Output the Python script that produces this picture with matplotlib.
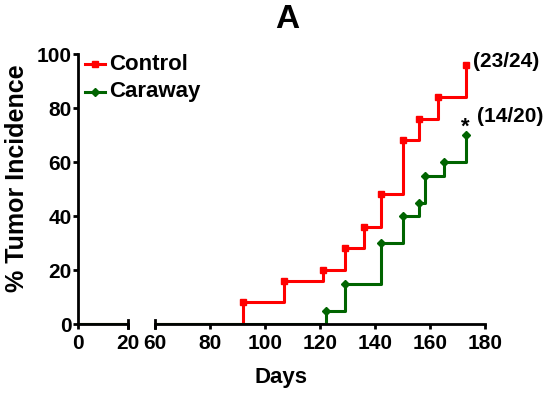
import matplotlib
matplotlib.use("Agg")
import matplotlib.pyplot as plt
from matplotlib.lines import Line2D

plt.rcParams['font.family'] = ['Liberation Sans', 'DejaVu Sans']
plt.rcParams['font.weight'] = 'bold'

# Data (days, % tumor incidence)
control_days = [92, 107, 121, 129, 136, 142, 150, 156, 163, 173]
control_pct = [8, 16, 20, 28, 36, 48, 68, 76, 84, 96]
caraway_days = [122, 129, 142, 150, 156, 158, 165, 173]
caraway_pct = [5, 15, 30, 40, 45, 55, 60, 70]
x_ticks_left = [0, 20]
x_ticks_right = [60, 80, 100, 120, 140, 160, 180]
y_ticks = [0, 20, 40, 60, 80, 100]
series_names = ['Control', 'Caraway']

RED = '#FF0000'
GREEN = '#006400'
LW = 2.2
MS = 4.5

W, H = 550, 396
fig = plt.figure(figsize=(W / 100, H / 100), dpi=100)
bottom = 1 - 324 / H
height = (324 - 54) / H
axL = fig.add_axes([78 / W, bottom, 50 / W, height])
axR = fig.add_axes([155 / W, bottom, 330 / W, height])

def step_xy(days, pct):
    return [0] + list(days), [0] + list(pct)

for ax in (axL, axR):
    xs, ys = step_xy(control_days, control_pct)
    ax.plot(xs, ys, drawstyle='steps-post', color=RED, lw=LW, zorder=2)
    xs, ys = step_xy(caraway_days, caraway_pct)
    ax.plot(xs, ys, drawstyle='steps-post', color=GREEN, lw=LW, zorder=2)
    ax.set_ylim(0, 100)
    ax.spines['top'].set_visible(False)
    ax.spines['right'].set_visible(False)
    for s in ('left', 'bottom'):
        ax.spines[s].set_linewidth(2.0)
        ax.spines[s].set_zorder(5)
        ax.spines[s].set_capstyle('projecting')
    ax.tick_params(width=2.0, length=3.6, labelsize=15)
    ax.tick_params(axis='x', pad=3.5)
    ax.tick_params(axis='y', pad=1)

axR.plot(control_days, control_pct, 's', color=RED, ms=MS, zorder=3, clip_on=False)
axR.plot(caraway_days, caraway_pct, 'D', color=GREEN, ms=MS, zorder=3, clip_on=False)

axL.set_xlim(0, 20)
axR.set_xlim(60, 180)
axL.set_xticks(x_ticks_left)
axR.set_xticks(x_ticks_right)
axL.set_yticks(y_ticks)
axR.set_yticks([])
axR.spines['left'].set_visible(False)
for ax in (axL, axR):
    for lab in ax.get_xticklabels() + ax.get_yticklabels():
        lab.set_fontweight('bold')

# break markers (small crossing ticks at the break)
axL.plot([20, 20], [-1.4, 1.4], color='black', lw=2.0, clip_on=False, zorder=6)
axR.plot([60, 60], [-1.4, 1.4], color='black', lw=2.0, clip_on=False, zorder=6)

fig.text(17 / W, 1 - 178 / H, '% Tumor Incidence', fontsize=18, fontweight='bold',
         rotation=90, ha='center', va='center')
fig.text(281 / W, 1 - 377 / H, 'Days', fontsize=16, fontweight='bold', ha='center', va='center')
fig.text(287 / W, 1 - 20 / H, 'A', fontsize=24, fontweight='bold', ha='center', va='center')

# legend (manual)
leg_y = [64, 92]
colors = [RED, GREEN]
markers = ['s', 'D']
for name, yy, c, m in zip(series_names, leg_y, colors, markers):
    yf = 1 - yy / H
    ln = Line2D([85 / W, 95 / W, 105 / W], [yf, yf, yf], color=c, lw=LW, marker=m,
                ms=MS, markevery=[1], transform=fig.transFigure)
    fig.add_artist(ln)
    fig.text(109 / W, yf, name, fontsize=16, fontweight='bold', ha='left', va='center')

axR.annotate('(23/24)', xy=(control_days[-1], control_pct[-1]), xytext=(5, 2.5),
             textcoords='offset points', fontsize=15, fontweight='bold', va='center', ha='left',
             annotation_clip=False)
axR.annotate('(14/20)', xy=(caraway_days[-1], caraway_pct[-1]), xytext=(8, 13.5),
             textcoords='offset points', fontsize=15, fontweight='bold', va='center', ha='left',
             annotation_clip=False)
axR.annotate('*', xy=(caraway_days[-1], caraway_pct[-1]), xytext=(0, 2),
             textcoords='offset points', fontsize=16, fontweight='bold', va='baseline', ha='center',
             annotation_clip=False)

fig.savefig('out.png', dpi=100)
